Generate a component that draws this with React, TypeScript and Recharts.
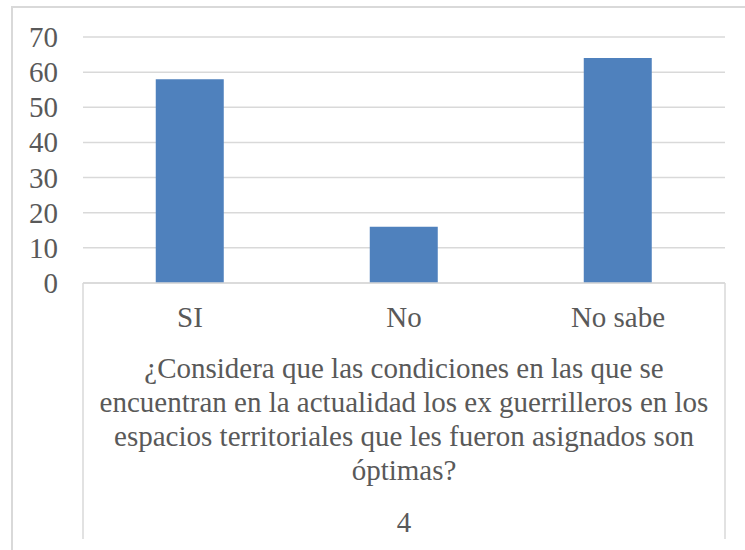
import React from 'react';
import { BarChart, Bar, XAxis, YAxis, CartesianGrid, Label } from 'recharts';

const categories = ['SI', 'No', 'No sabe'];
const counts = [58, 16, 64];
const yTicks = [0, 10, 20, 30, 40, 50, 60, 70];
const questionLines = [
  '¿Considera que las condiciones en las que se',
  'encuentran en la actualidad los ex guerrilleros en los',
  'espacios territoriales que les fueron asignados son',
  'óptimas?',
];
const groupNumber = '4';

const data = categories.map((category, i) => ({ category, count: counts[i] }));

const TEXT = '#595959';
const LINE = '#D9D9D9';
const textStyle = { fontFamily: "'Liberation Serif', 'DejaVu Serif', serif", fontSize: 29, fill: TEXT };

const YTick = (props: any) => {
  const { y, payload } = props;
  return (
    <text x={58} y={y} dy={10} textAnchor="end" style={textStyle}>
      {payload.value}
    </text>
  );
};

const XTick = (props: any) => {
  const { x, y, payload } = props;
  return (
    <text x={x} y={y} dy={44} textAnchor="middle" style={textStyle}>
      {payload.value}
    </text>
  );
};

// second level of the category axis: box lines, question text and group number
const GroupLabel = (props: any) => {
  const { x, y, width } = props.viewBox;
  const cx = x + width / 2;
  return (
    <g>
      <line x1={x} y1={y} x2={x} y2={y + 256} stroke={LINE} strokeWidth={1.5} />
      <line x1={x + width} y1={y} x2={x + width} y2={y + 256} stroke={LINE} strokeWidth={1.5} />
      {questionLines.map((line, i) => (
        <text key={i} x={cx} y={y + 95 + i * 34} textAnchor="middle" style={textStyle}>
          {line}
        </text>
      ))}
      <text x={cx} y={y + 249} textAnchor="middle" style={textStyle}>
        {groupNumber}
      </text>
    </g>
  );
};

export default function App() {
  return (
    <div style={{ position: 'absolute', left: 0, top: 0, width: 745, height: 550, overflow: 'hidden', background: '#fff' }}>
      <div
        style={{
          position: 'absolute',
          left: 11,
          top: 6,
          width: 800,
          height: 600,
          borderLeft: `2px solid ${LINE}`,
          borderTop: `2px solid ${LINE}`,
        }}
      />
      <div style={{ position: 'absolute', left: 0, top: 0 }}>
        <BarChart width={745} height={550} data={data} margin={{ top: 37, right: 20, bottom: 0, left: 0 }} barCategoryGap="34%">
          <CartesianGrid vertical={false} stroke={LINE} strokeWidth={1.5} />
          <XAxis
            dataKey="category"
            height={267}
            axisLine={{ stroke: LINE, strokeWidth: 1.5 }}
            tickLine={false}
            tickSize={0}
            tickMargin={0}
            tick={<XTick />}
            interval={0}
          >
            <Label content={<GroupLabel />} />
          </XAxis>
          <YAxis
            width={83}
            domain={[0, 70]}
            ticks={yTicks}
            axisLine={false}
            tickLine={false}
            tick={<YTick />}
            interval={0}
          />
          <Bar dataKey="count" fill="#4F81BD" isAnimationActive={false} />
        </BarChart>
      </div>
    </div>
  );
}
